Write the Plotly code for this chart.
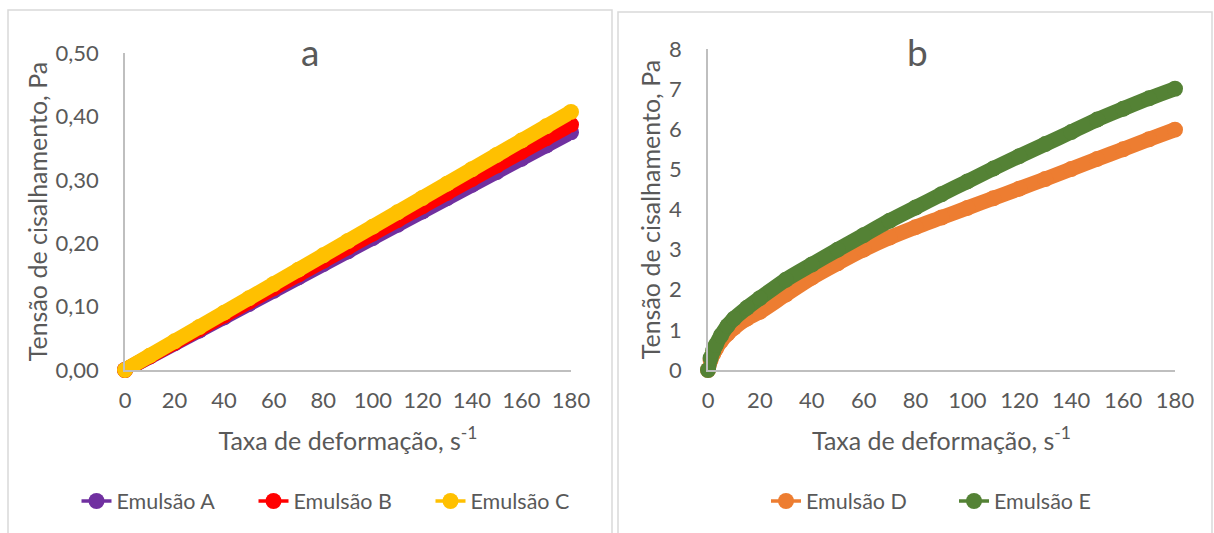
import plotly.graph_objects as go

# ---------------- data ----------------
x_a = [0, 10, 20, 30, 40, 50, 60, 70, 80, 90, 100, 110, 120, 130, 140, 150, 160, 170, 180]
emul_A = [0, 0.021, 0.042, 0.062, 0.083, 0.104, 0.125, 0.146, 0.167, 0.187, 0.208, 0.229,
          0.250, 0.271, 0.292, 0.312, 0.333, 0.354, 0.375]
emul_B = [0, 0.0215, 0.043, 0.0645, 0.086, 0.1075, 0.129, 0.1505, 0.172, 0.1935, 0.215, 0.2365,
          0.258, 0.2795, 0.301, 0.3225, 0.344, 0.3655, 0.387]
emul_C = [0, 0.0226, 0.0452, 0.0678, 0.0904, 0.113, 0.1357, 0.1583, 0.1809, 0.2035, 0.2261,
          0.2487, 0.2713, 0.2939, 0.3166, 0.3392, 0.3618, 0.3844, 0.407]

x_b = [0, 1, 2, 3, 5, 7.5, 10, 15, 20, 30, 40, 50, 60, 70, 80, 90, 100, 110, 120, 130, 140,
       150, 160, 170, 180]
emul_D = [0, 0.25, 0.40, 0.52, 0.72, 0.90, 1.05, 1.28, 1.45, 1.88, 2.30, 2.66, 3.00, 3.30, 3.56,
          3.80, 4.04, 4.28, 4.52, 4.76, 5.01, 5.26, 5.50, 5.75, 5.99]
emul_E = [0, 0.30, 0.48, 0.62, 0.86, 1.10, 1.28, 1.55, 1.79, 2.25, 2.63, 3.00, 3.36, 3.72, 4.05,
          4.38, 4.70, 5.02, 5.33, 5.63, 5.93, 6.24, 6.51, 6.77, 7.01]

x_ticks = [0, 20, 40, 60, 80, 100, 120, 140, 160, 180]
names_a = ["Emulsão A", "Emulsão B", "Emulsão C"]
names_b = ["Emulsão D", "Emulsão E"]
colors_a = ["#7030A0", "#FF0000", "#FFC000"]
colors_b = ["#ED7D31", "#548235"]

W, H = 1214, 533
FONT = "Lato"
GRAY = "#595959"

fig = go.Figure()

# data traces (thick, like densely overlapping markers)
for name, ys, col in zip(names_a, [emul_A, emul_B, emul_C], colors_a):
    fig.add_trace(go.Scatter(x=x_a, y=ys, mode="lines+markers", name=name,
                             line=dict(color=col, width=15), marker=dict(color=col, size=16),
                             xaxis="x", yaxis="y", showlegend=False, cliponaxis=False))
for name, ys, col in zip(names_b, [emul_D, emul_E], colors_b):
    fig.add_trace(go.Scatter(x=x_b, y=ys, mode="lines+markers", name=name,
                             line=dict(color=col, width=15, shape="spline", smoothing=0.8),
                             marker=dict(color=col, size=16),
                             xaxis="x2", yaxis="y2", showlegend=False, cliponaxis=False))

# legend entries
for name, col in zip(names_a, colors_a):
    fig.add_trace(go.Scatter(x=[None], y=[None], mode="lines+markers", name=name,
                             line=dict(color=col, width=3.5), marker=dict(color=col, size=16),
                             xaxis="x", yaxis="y", legend="legend"))
for name, col in zip(names_b, colors_b):
    fig.add_trace(go.Scatter(x=[None], y=[None], mode="lines+markers", name=name,
                             line=dict(color=col, width=3.5), marker=dict(color=col, size=16),
                             xaxis="x2", yaxis="y2", legend="legend2"))

def px_x(p):
    return p / W

def px_y(p):
    return 1 - p / H

axis_common = dict(showgrid=False, zeroline=False, showline=True, linecolor="#BFBFBF",
                   linewidth=1.5, ticks="", automargin=False,
                   tickfont=dict(family=FONT, size=22, color=GRAY),
                   title_font=dict(family=FONT, size=25, color=GRAY))

xt = "Taxa de deformação, s<sup>-1</sup>"
yt = "Tensão de cisalhamento, Pa"

fig.update_layout(
    width=W, height=H, margin=dict(l=0, r=0, t=0, b=0, autoexpand=False),
    paper_bgcolor="white", plot_bgcolor="white",
    separators=",.",
    font=dict(family=FONT, color=GRAY),
    xaxis=dict(domain=[px_x(125), px_x(571)], range=[0, 180], tickvals=x_ticks,
               anchor="y", ticklabelstandoff=10, title=dict(text=xt, standoff=20), **axis_common),
    yaxis=dict(domain=[px_y(370), px_y(53)], range=[0, 0.5], dtick=0.1, tickformat=".2f",
               anchor="x", ticklabelstandoff=20, title=dict(text=yt, standoff=1), **axis_common),
    xaxis2=dict(domain=[px_x(708), px_x(1175)], range=[0, 180], tickvals=x_ticks,
                anchor="y2", ticklabelstandoff=10, title=dict(text=xt, standoff=20), **axis_common),
    yaxis2=dict(domain=[px_y(370), px_y(49)], range=[0, 8], dtick=1,
                anchor="x2", ticklabelstandoff=20, title=dict(text=yt, standoff=1), **axis_common),
    legend=dict(orientation="h", x=px_x(342), y=px_y(501), xanchor="center", yanchor="middle",
                font=dict(family=FONT, size=21.5, color=GRAY), bgcolor="rgba(0,0,0,0)",
                itemsizing="trace", entrywidth=132, entrywidthmode="pixels"),
    legend2=dict(orientation="h", x=px_x(954), y=px_y(501), xanchor="center", yanchor="middle",
                 font=dict(family=FONT, size=21.5, color=GRAY), bgcolor="rgba(0,0,0,0)",
                 itemsizing="trace", entrywidth=143, entrywidthmode="pixels"),
    annotations=[
        dict(text="a", x=px_x(310), y=px_y(52), xref="paper", yref="paper", showarrow=False,
             xanchor="center", yanchor="middle", font=dict(family=FONT, size=37, color=GRAY)),
        dict(text="b", x=px_x(917), y=px_y(52), xref="paper", yref="paper", showarrow=False,
             xanchor="center", yanchor="middle", font=dict(family=FONT, size=37, color=GRAY)),
    ],
    shapes=[
        dict(type="rect", xref="paper", yref="paper", x0=px_x(8), x1=px_x(612),
             y0=-0.05, y1=px_y(10), line=dict(color="#D9D9D9", width=1.5)),
        dict(type="rect", xref="paper", yref="paper", x0=px_x(618), x1=px_x(1212),
             y0=-0.05, y1=px_y(12), line=dict(color="#D9D9D9", width=1.5)),
    ],
)

fig.write_html("out.html")
